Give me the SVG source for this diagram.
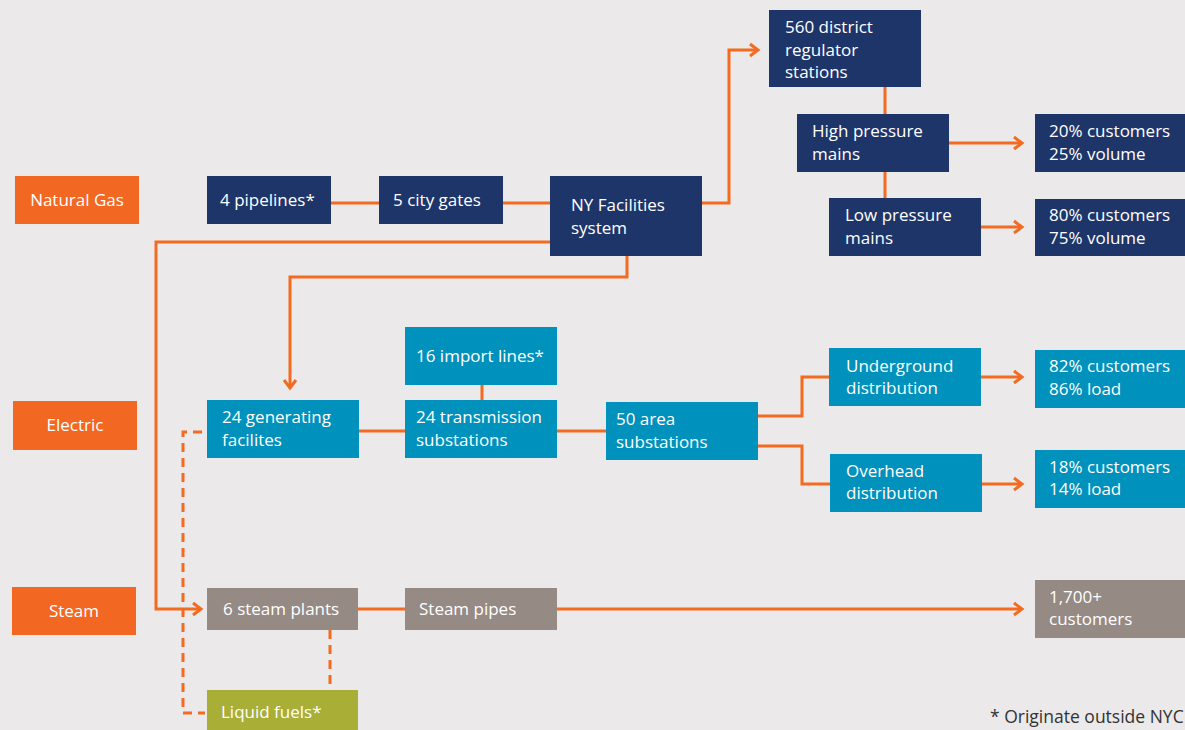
<svg xmlns="http://www.w3.org/2000/svg" width="1185" height="730" viewBox="0 0 1185 730">
<defs>
<marker id="arr" markerUnits="userSpaceOnUse" markerWidth="14" markerHeight="16" viewBox="-11 -8 13 16" refX="0" refY="0" orient="auto">
<path d="M-8,-6 L0,0 L-8,6" fill="none" stroke="#f26b21" stroke-width="3"/>
</marker>
<style>
.bg{fill:#ebe9ea}
.cat{fill:#f26822}
.navy{fill:#1e3569}
.teal{fill:#0091bc}
.gray{fill:#968a85}
.olive{fill:#a9ae37}
text{font-family:"Open Sans","Liberation Sans",sans-serif;font-size:17px;fill:#ffffff}
.c{text-anchor:middle}
.foot{fill:#333333;font-size:17.5px}
.ln{fill:none;stroke:#f26b21;stroke-width:3}
.ar{marker-end:url(#arr)}
.dash{fill:none;stroke:#f26b21;stroke-width:3;stroke-dasharray:9,6}
</style>
</defs>
<rect class="bg" x="0" y="0" width="1185" height="730"/>

<g id="connectors">
<path class="ln" d="M331,203 H379"/>
<path class="ln" d="M503,203 H550"/>
<path class="ln ar" d="M702,203 H729 V50 H758"/>
<path class="ln" d="M885,87 V114"/>
<path class="ln" d="M885,172 V198"/>
<path class="ln ar" d="M949,143 H1022"/>
<path class="ln ar" d="M981,227 H1022"/>
<path class="ln ar" d="M550,242 H156 V609 H201"/>
<path class="ln ar" d="M627,256 V277 H290 V388"/>
<path class="ln" d="M482,385 V400"/>
<path class="ln" d="M359,431 H405"/>
<path class="ln" d="M557,431 H606"/>
<path class="ln" d="M758,416 H802 V377 H829"/>
<path class="ln" d="M758,446 H802 V484 H830"/>
<path class="ln ar" d="M981,377 H1022"/>
<path class="ln ar" d="M982,484 H1022"/>
<path class="ln" d="M358,609 H405"/>
<path class="ln ar" d="M557,609 H1022"/>
<path class="dash" d="M202,432 H183 V713 H205"/>
<path class="dash" d="M330,630 V690"/>
</g>

<g id="natural-gas"><rect class="cat" x="15" y="176" width="124" height="48"/><text class="c" x="77" y="206">Natural Gas</text></g>
<g id="electric"><rect class="cat" x="13" y="401" width="124" height="49"/><text class="c" x="75" y="431">Electric</text></g>
<g id="steam"><rect class="cat" x="12" y="587" width="124" height="48"/><text class="c" x="74" y="617">Steam</text></g>

<g id="pipelines"><rect class="navy" x="207" y="176" width="124" height="48"/><text x="220" y="206">4 pipelines*</text></g>
<g id="city-gates"><rect class="navy" x="379" y="176" width="124" height="48"/><text x="393" y="206">5 city gates</text></g>
<g id="ny-facilities"><rect class="navy" x="550" y="176" width="152" height="80"/><text x="571" y="211">NY Facilities</text><text x="571" y="234">system</text></g>
<g id="district-regulator"><rect class="navy" x="769" y="10" width="152" height="77"/><text x="785" y="33">560 district</text><text x="785" y="56">regulator</text><text x="785" y="78">stations</text></g>
<g id="high-pressure"><rect class="navy" x="797" y="114" width="152" height="58"/><text x="812" y="137">High pressure</text><text x="812" y="160">mains</text></g>
<g id="low-pressure"><rect class="navy" x="829" y="198" width="152" height="58"/><text x="845" y="221">Low pressure</text><text x="845" y="244">mains</text></g>
<g id="hp-result"><rect class="navy" x="1035" y="114" width="150" height="58"/><text x="1049" y="137">20% customers</text><text x="1049" y="160">25% volume</text></g>
<g id="lp-result"><rect class="navy" x="1035" y="199" width="150" height="57"/><text x="1049" y="221">80% customers</text><text x="1049" y="244">75% volume</text></g>

<g id="import-lines"><rect class="teal" x="405" y="327" width="152" height="58"/><text x="416" y="362">16 import lines*</text></g>
<g id="generating"><rect class="teal" x="207" y="400" width="152" height="58"/><text x="222" y="423">24 generating</text><text x="222" y="446">facilites</text></g>
<g id="transmission"><rect class="teal" x="405" y="400" width="152" height="58"/><text x="416" y="423">24 transmission</text><text x="416" y="446">substations</text></g>
<g id="area-substations"><rect class="teal" x="606" y="402" width="152" height="58"/><text x="616" y="425">50 area</text><text x="616" y="448">substations</text></g>
<g id="underground"><rect class="teal" x="829" y="348" width="152" height="58"/><text x="846" y="372">Underground</text><text x="846" y="394">distribution</text></g>
<g id="overhead"><rect class="teal" x="830" y="454" width="152" height="58"/><text x="846" y="477">Overhead</text><text x="846" y="499">distribution</text></g>
<g id="ug-result"><rect class="teal" x="1035" y="350" width="150" height="58"/><text x="1049" y="372">82% customers</text><text x="1049" y="395">86% load</text></g>
<g id="oh-result"><rect class="teal" x="1035" y="450" width="150" height="58"/><text x="1049" y="473">18% customers</text><text x="1049" y="495">14% load</text></g>

<g id="steam-plants"><rect class="gray" x="207" y="588" width="151" height="42"/><text x="223" y="615">6 steam plants</text></g>
<g id="steam-pipes"><rect class="gray" x="405" y="588" width="152" height="42"/><text x="419" y="615">Steam pipes</text></g>
<g id="steam-result"><rect class="gray" x="1035" y="580" width="150" height="58"/><text x="1049" y="603">1,700+</text><text x="1049" y="625">customers</text></g>
<g id="liquid-fuels"><rect class="olive" x="207" y="690" width="151" height="40"/><text x="221" y="718">Liquid fuels*</text></g>

<text class="foot" x="990" y="723">* Originate outside NYC</text>
</svg>
